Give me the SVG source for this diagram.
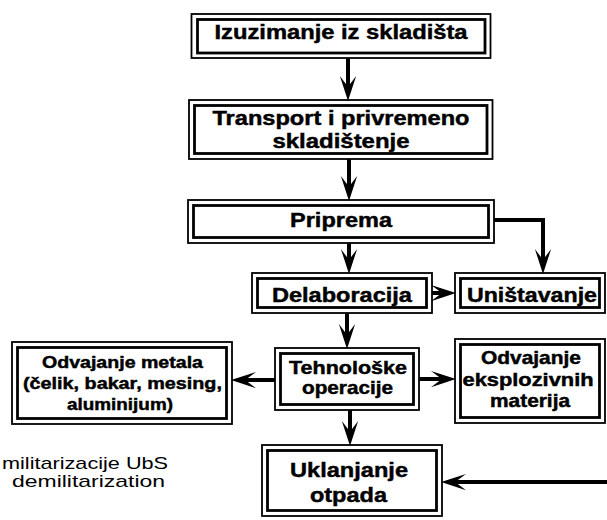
<svg xmlns="http://www.w3.org/2000/svg" width="607" height="520" viewBox="0 0 607 520">
<style>
.o{fill:#fff;stroke:#000;stroke-width:1.8}
.i{fill:none;stroke:#000;stroke-width:2.8}
.t{font-family:"Liberation Sans",Arial,sans-serif;font-weight:bold;fill:#000;stroke:#000;stroke-width:0.45;text-anchor:middle}
.r{font-family:"Liberation Sans",Arial,sans-serif;fill:#000}
.c{fill:none;stroke:#000;stroke-width:4;marker-end:url(#ah)}
</style>
<defs>
<marker id="ah" markerUnits="userSpaceOnUse" markerWidth="26" markerHeight="18" viewBox="0 0 24 16" refX="12" refY="8" orient="auto">
<path d="M23,8 L0,0.5 L10,8 L0,15.5 Z" fill="#000"/>
</marker>
</defs>
<rect width="607" height="520" fill="#fff"/>
<g id="n1">
<rect class="o" x="191.5" y="14" width="299" height="44"/>
<rect class="i" x="197.5" y="19.5" width="287.5" height="33.5"/>
<text class="t" transform="scale(1.18 1)" x="289" y="39.5" font-size="20" textLength="214.4" lengthAdjust="spacingAndGlyphs">Izuzimanje iz skladišta</text>
</g>
<g id="n2">
<rect class="o" x="189" y="100" width="303.5" height="59"/>
<rect class="i" x="194.5" y="105.5" width="292.5" height="48"/>
<text class="t" transform="scale(1.18 1)" x="289" y="125" font-size="20" textLength="217.8" lengthAdjust="spacingAndGlyphs">Transport i privremeno</text>
<text class="t" transform="scale(1.18 1)" x="289" y="148" font-size="20" textLength="116.1" lengthAdjust="spacingAndGlyphs">skladištenje</text>
</g>
<g id="n3">
<rect class="o" x="188" y="200" width="306" height="43"/>
<rect class="i" x="193.5" y="205.5" width="295" height="32"/>
<text class="t" transform="scale(1.18 1)" x="289" y="227.5" font-size="20" textLength="86.4" lengthAdjust="spacingAndGlyphs">Priprema</text>
</g>
<g id="n4">
<rect class="o" x="252" y="273" width="180" height="40"/>
<rect class="i" x="257.5" y="278.5" width="169" height="29"/>
<text class="t" transform="scale(1.18 1)" x="289.8" y="302" font-size="20" textLength="118.6" lengthAdjust="spacingAndGlyphs">Delaboracija</text>
</g>
<g id="n5">
<rect class="o" x="455" y="273" width="150" height="40"/>
<rect class="i" x="460.5" y="278.5" width="139" height="29"/>
<text class="t" transform="scale(1.18 1)" x="450.8" y="302" font-size="20" textLength="110.2" lengthAdjust="spacingAndGlyphs">Uništavanje</text>
</g>
<g id="n6">
<rect class="o" x="275" y="348" width="144" height="62"/>
<rect class="i" x="280.5" y="353.5" width="133" height="51"/>
<text class="t" transform="scale(1.18 1)" x="294.9" y="374" font-size="18" textLength="100" lengthAdjust="spacingAndGlyphs">Tehnološke</text>
<text class="t" transform="scale(1.18 1)" x="294.5" y="394" font-size="18" textLength="77.1" lengthAdjust="spacingAndGlyphs">operacije</text>
</g>
<g id="n7">
<rect class="o" x="455" y="339" width="150" height="84"/>
<rect class="i" x="460.5" y="344.5" width="139" height="73"/>
<text class="t" transform="scale(1.18 1)" x="450" y="364" font-size="18" textLength="84.7" lengthAdjust="spacingAndGlyphs">Odvajanje</text>
<text class="t" transform="scale(1.18 1)" x="447.5" y="386" font-size="18" textLength="111" lengthAdjust="spacingAndGlyphs">eksplozivnih</text>
<text class="t" transform="scale(1.18 1)" x="449.2" y="407" font-size="18" textLength="67.8" lengthAdjust="spacingAndGlyphs">materija</text>
</g>
<g id="n8">
<rect class="o" x="12" y="342" width="220" height="82"/>
<rect class="i" x="17.5" y="347.5" width="209" height="71"/>
<text class="t" transform="scale(1.18 1)" x="103.8" y="368" font-size="16.5" textLength="136.4" lengthAdjust="spacingAndGlyphs">Odvajanje metala</text>
<text class="t" transform="scale(1.18 1)" x="103.8" y="389" font-size="16.5" textLength="168.6" lengthAdjust="spacingAndGlyphs">(čelik, bakar, mesing,</text>
<text class="t" transform="scale(1.18 1)" x="101.7" y="410" font-size="16.5" textLength="89.8" lengthAdjust="spacingAndGlyphs">aluminijum)</text>
</g>
<g id="n9">
<rect class="o" x="262" y="445" width="180" height="71"/>
<rect class="i" x="267.5" y="450.5" width="169" height="60"/>
<text class="t" transform="scale(1.18 1)" x="295.8" y="477" font-size="21" textLength="100" lengthAdjust="spacingAndGlyphs">Uklanjanje</text>
<text class="t" transform="scale(1.18 1)" x="295.3" y="502" font-size="21" textLength="65.3" lengthAdjust="spacingAndGlyphs">otpada</text>
</g>
<g id="caption">
<text class="r" transform="scale(1.18 1)" x="1.7" y="469.5" font-size="16" textLength="140.7" lengthAdjust="spacingAndGlyphs">militarizacije UbS</text>
<text class="r" transform="scale(1.18 1)" x="10.2" y="487" font-size="16" textLength="129.7" lengthAdjust="spacingAndGlyphs">demilitarization</text>
</g>
<g id="connectors">
<path class="c" d="M348,58 V89"/>
<path class="c" d="M349,159 V189"/>
<path class="c" d="M349,243 V262"/>
<path class="c" d="M494,220 H543 V262"/>
<path class="c" d="M432,293 H444"/>
<path class="c" d="M347,313 V337"/>
<path class="c" d="M419,379 H444"/>
<path class="c" d="M275,380 H243"/>
<path class="c" d="M350,410 V434"/>
<path class="c" d="M607,482 H453"/>
</g>
</svg>
